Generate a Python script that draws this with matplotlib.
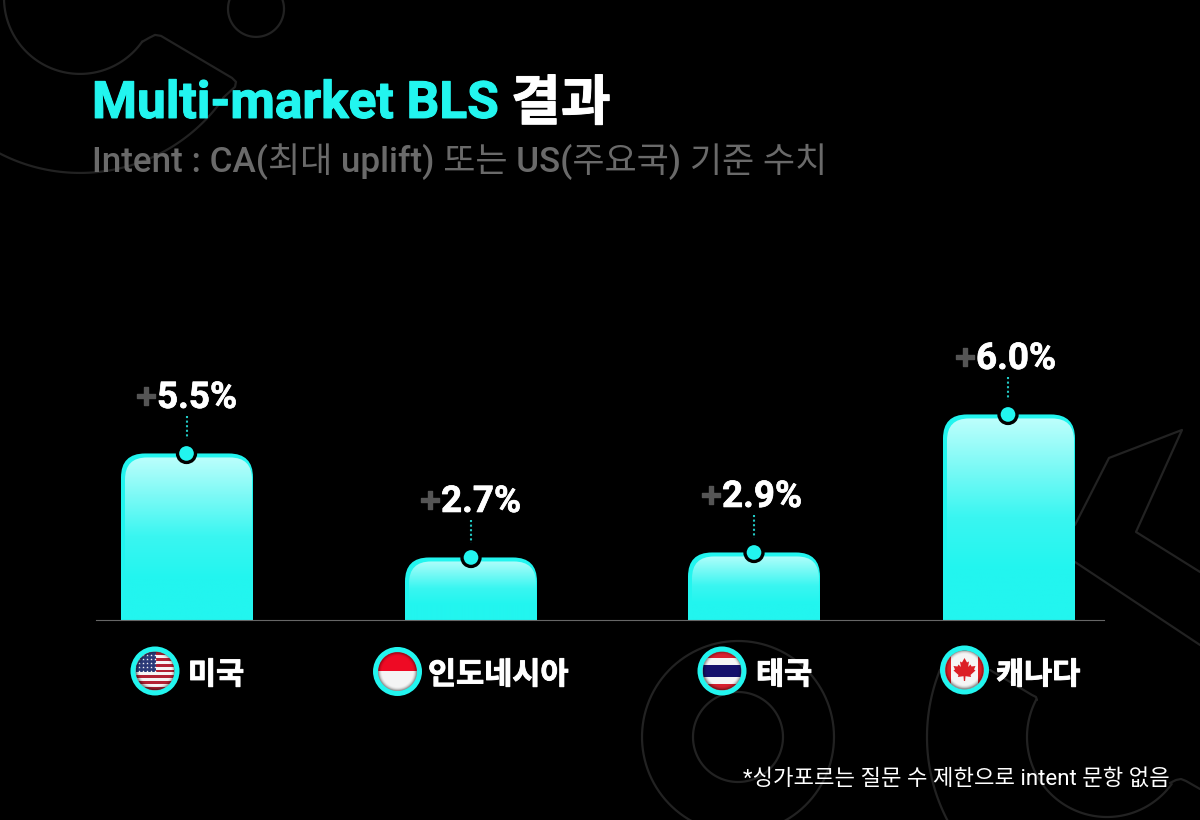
import numpy as np
import matplotlib
matplotlib.use('Agg')
import matplotlib.pyplot as plt
import matplotlib.patheffects as pe
from matplotlib.colors import LinearSegmentedColormap
from matplotlib.patches import Circle, PathPatch, Rectangle, Polygon
from matplotlib.path import Path

plt.rcParams['font.family'] = ['Roboto', 'Noto Sans CJK KR', 'DejaVu Sans']

countries = ['미국', '인도네시아', '태국', '캐나다']
labels = ['5.5%', '2.7%', '2.9%', '6.0%']
# bar heights, they do not scale with the labels
heights = [167, 63, 68, 206]
bar_left = [121, 405, 688, 943]
bar_width = 132
dot_x = [186.5, 471, 754, 1008]
label_x = [157, 441, 722, 976]
flag_x = [155, 397.5, 722, 964.5]
flag_y = [671, 671.5, 671, 670]
name_x = [188, 428, 756, 996]

CYAN = '#22f5ef'
LINE = '#222222'
base = 620.5

fig = plt.figure(figsize=(12, 8.201), dpi=100, facecolor='black')
ax = fig.add_axes([0, 0, 1, 1])
ax.set_facecolor('black')
ax.axis('off')


def arc(cx, cy, r, a0, a1):
    t = np.radians(np.linspace(a0, a1, 120))
    return cx + r * np.cos(t), cy + r * np.sin(t)


def thick(color, w=0.7):
    return [pe.withStroke(linewidth=w, foreground=color)]


# background line work
def bg(x, y):
    ax.plot(x, y, color=LINE, lw=1.6, zorder=1, solid_capstyle='round')


bg(*arc(738, 737, 45, 0, 360))
bg(*arc(738, 737, 96, 0, 360))
bg(*arc(256, 9, 28, 0, 360))
bg(*arc(80, -2, 76, 35, 180))
bg(*arc(80, -2, 175, 35, 125))
bg([142, 149, 155, 161, 232, 236, 235, 223], [42, 38, 35, 36, 78, 82, 87, 98])
bg([1075, 1109, 1182, 1136, 1200], [525, 458, 430, 532, 572])
bg([1075, 1200], [562, 645])
bg(*arc(1107, 737, 180, 150, 202))
bg(*arc(1107, 737, 80, 36, 208))
bg([990, 1032, 1036, 1037], [670, 695, 697, 700])
bg([1170, 1176, 1181, 1186, 1200], [783, 780, 779, 781, 789])


def bar_path(x0, x1, top, bottom, r):
    verts = [(x0, bottom), (x0, top + r), (x0, top), (x0 + r, top), (x1 - r, top),
             (x1, top), (x1, top + r), (x1, bottom), (x0, bottom)]
    codes = [Path.MOVETO, Path.LINETO, Path.CURVE3, Path.CURVE3, Path.LINETO,
             Path.CURVE3, Path.CURVE3, Path.LINETO, Path.CLOSEPOLY]
    return Path(verts, codes)


grad = LinearSegmentedColormap.from_list('bar', ['#c4fffd', '#7ffaf6', '#3af6f1', CYAN, CYAN], N=256)
ramp = np.linspace(0, 1, 256).reshape(-1, 1)

for i in range(4):
    x0 = bar_left[i]
    x1 = x0 + bar_width
    top = base - heights[i]
    ax.add_patch(PathPatch(bar_path(x0, x1, top, base, 24), fc=CYAN, ec='none', zorder=3))
    inner = PathPatch(bar_path(x0 + 4, x1 - 1, top + 4, base, 22), fc='none', ec='none',
                      transform=ax.transData, zorder=4)
    ax.add_patch(inner)
    im = ax.imshow(ramp, cmap=grad, extent=(x0, x1, base, top), aspect='auto', zorder=4,
                   interpolation='bilinear')
    im.set_clip_path(inner)

    # pin and dotted leader
    ax.plot([dot_x[i], dot_x[i]], [top - 37, top - 14], color='#22c9c4', lw=1.5,
            ls=(0, (1, 1.2)), zorder=3)
    ax.add_patch(Circle((dot_x[i], top), 9, fc=CYAN, ec='black', lw=2.4, zorder=6))

    ax.text(label_x[i], top - 45.5, labels[i], color='white', fontsize=26.5, fontweight='bold',
            ha='left', va='baseline', zorder=6, path_effects=thick('white', 0.5))
    ax.text(label_x[i] - 1, top - 45.5, '+', color='#555555', fontsize=26, fontweight='bold',
            ha='right', va='baseline', zorder=6, path_effects=thick('#555555', 1))

    ax.text(name_x[i], 684, countries[i], color='white', fontsize=22, fontweight='black',
            ha='left', va='baseline', zorder=6, path_effects=thick('white', 0.7))

ax.plot([96, 1104], [620.5, 620.5], color='#666666', lw=0.8, zorder=5)


# flags
def stripes(cx, cy, r, rows, clip):
    y0 = cy - r
    total = sum(h for h, c in rows)
    for h, c in rows:
        hh = 2 * r * h / total
        p = Rectangle((cx - r, y0), 2 * r, hh, fc=c, ec='none', zorder=7)
        ax.add_patch(p)
        p.set_clip_path(clip)
        y0 += hh


def flag_us(cx, cy, r, clip):
    stripes(cx, cy, r, [(1, '#b22234' if k % 2 == 0 else '#f5f5f5') for k in range(13)], clip)
    p = Rectangle((cx - r, cy - r), r * 1.05, r * 1.05, fc='#2b3a78', ec='none', zorder=8)
    ax.add_patch(p)
    p.set_clip_path(clip)
    for row in range(5):
        for col in range(5):
            s = ax.scatter(cx - r + 3 + col * 4, cy - r + 3 + row * 4, s=3.5, marker='*',
                           color='white', lw=0, zorder=9)
            s.set_clip_path(clip)


def flag_id(cx, cy, r, clip):
    stripes(cx, cy, r, [(1, '#ee0a24'), (1, '#f4f4f4')], clip)


def flag_th(cx, cy, r, clip):
    stripes(cx, cy, r, [(1, '#d8202f'), (1, '#f5f5f5'), (2, '#15106b'), (1, '#f5f5f5'), (1, '#d8202f')], clip)


def flag_ca(cx, cy, r, clip):
    stripes(cx, cy, r, [(1, '#f5f5f5')], clip)
    for x0 in (cx - r, cx + r * 0.72):
        p = Rectangle((x0, cy - r), r * 0.28, 2 * r, fc='#dc1f26', ec='none', zorder=8)
        ax.add_patch(p)
        p.set_clip_path(clip)
    leaf = [(0, -12), (2.5, -7.5), (4.5, -8.5), (3.6, -3), (6, -5.5), (7, -3.5), (11, -4),
            (9.5, -0.5), (11, 0.5), (6, 5), (6.6, 7), (1, 6.2), (0.6, 11), (-0.6, 11), (-1, 6.2),
            (-6.6, 7), (-6, 5), (-11, 0.5), (-9.5, -0.5), (-11, -4), (-7, -3.5), (-6, -5.5),
            (-3.6, -3), (-4.5, -8.5), (-2.5, -7.5)]
    ax.add_patch(Polygon([(cx + a, cy + b) for a, b in leaf], fc='#dc1f26', ec='none', zorder=9))


yy, xx = np.mgrid[-1:1:120j, -1:1:120j]
rr = np.sqrt(xx ** 2 + yy ** 2)
shade = np.zeros((120, 120, 4))
shade[..., 3] = np.clip((rr - 0.78) / 0.22, 0, 1) ** 2 * 0.45

draw_flag = [flag_us, flag_id, flag_th, flag_ca]
for i in range(4):
    cx, cy = flag_x[i], flag_y[i]
    ax.add_patch(Circle((cx, cy), 24.5, fc=CYAN, ec='none', zorder=6))
    ax.add_patch(Circle((cx, cy), 19.5, fc='#888888', ec='none', zorder=6.5))
    clip = Circle((cx, cy), 19.2, transform=ax.transData, fc='none', ec='none')
    ax.add_patch(clip)
    draw_flag[i](cx, cy, 19.2, clip)
    sh = ax.imshow(shade, extent=(cx - 19.2, cx + 19.2, cy + 19.2, cy - 19.2), aspect='auto', zorder=10)
    sh.set_clip_path(clip)

# titles
ax.text(92, 118, 'Multi-market BLS', color=CYAN, fontsize=37, fontweight='bold', va='baseline', zorder=6,
        path_effects=thick(CYAN, 0.8))
ax.text(511, 120, '결과', color='white', fontsize=39, fontweight='black', va='baseline', zorder=6,
        path_effects=thick('white', 0.7))
ax.text(92, 172, 'Intent : CA(최대 uplift) 또는 US(주요국) 기준 수치', color='#6a6a6a', fontsize=25.2,
        fontweight='medium', va='baseline', zorder=6)
ax.text(1170, 785, '*싱가포르는 질문 수 제한으로 intent 문항 없음', color='white', fontsize=16,
        ha='right', va='baseline', zorder=6)

ax.set_xlim(0, 1200)
ax.set_ylim(820, 0)
fig.savefig('out.png', dpi=100, facecolor='black')
